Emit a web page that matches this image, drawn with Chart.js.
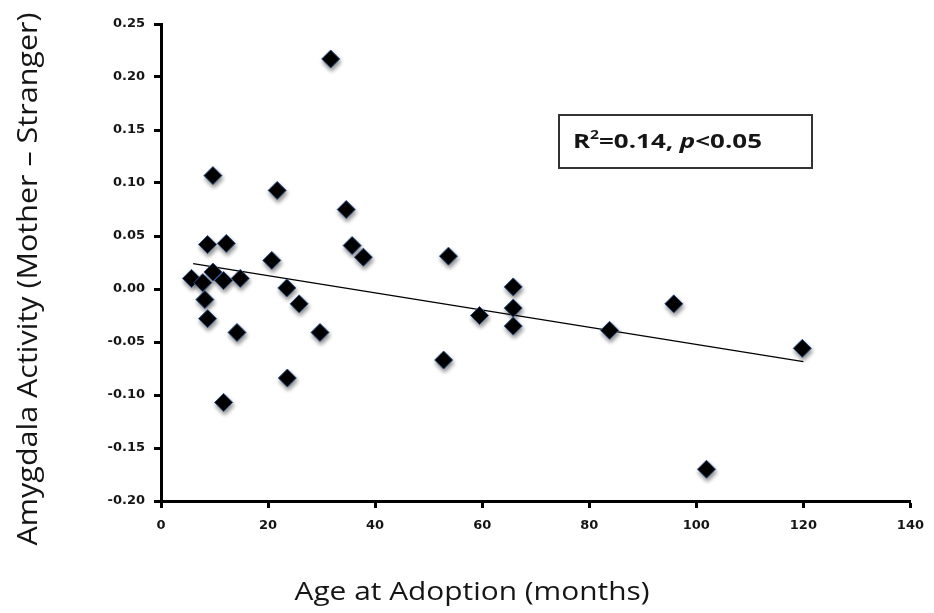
<!DOCTYPE html>
<html>
<head>
<meta charset="utf-8">
<script src="https://cdn.jsdelivr.net/npm/chart.js@4"></script>
<style>
  body { margin: 0; background: #fff; }
  #wrap { width: 934px; height: 613px; }
</style>
</head>
<body>
<div id="wrap"><canvas id="chart" width="934" height="613"></canvas></div>
<script>
// values
const ageMonths = [31.7, 9.7, 21.7, 34.6, 8.7, 12.2, 35.7, 37.8, 53.7, 5.7, 7.8, 9.7, 11.7, 14.8, 20.7, 23.5,
  25.8, 8.2, 8.7, 14.2, 23.6, 11.7, 29.7, 52.8, 59.5, 65.8, 65.8, 65.8, 83.8, 95.8, 101.9, 119.8];
const amygdala = [0.217, 0.107, 0.093, 0.075, 0.042, 0.043, 0.041, 0.030, 0.031, 0.010, 0.006, 0.016, 0.008, 0.010, 0.027, 0.001,
  -0.014, -0.010, -0.028, -0.041, -0.084, -0.107, -0.041, -0.067, -0.025, 0.002, -0.018, -0.035, -0.039, -0.014, -0.170, -0.056];
// trend line end points
const trendX = [6, 120];
const trendY = [0.024, -0.0686];

const xTitle = 'Age at Adoption (months)';
const yTitle = 'Amygdala Activity (Mother \u2013 Stranger)';

const points = ageMonths.map((x, i) => ({ x, y: amygdala[i] }));
const trend = trendX.map((x, i) => ({ x, y: trendY[i] }));

// draw text squeezed/stretched to a given width (reference uses a wide Calibri)
function fitText(ctx, text, x, y, width, font, rot) {
  ctx.save();
  ctx.font = font;
  const w = ctx.measureText(text).width;
  ctx.translate(x, y);
  if (rot) ctx.rotate(rot);
  ctx.scale(width / w, 1);
  ctx.textAlign = 'center';
  ctx.textBaseline = 'alphabetic';
  ctx.fillStyle = '#151515';
  ctx.fillText(text, 0, 0);
  ctx.restore();
}

const markerShadow = {
  id: 'markerShadow',
  beforeDatasetDraw(chart, args) {
    if (args.index !== 0) return;
    const ctx = chart.ctx;
    ctx.save();
    ctx.shadowColor = 'rgba(0,0,0,0.45)';
    ctx.shadowBlur = 4;
    ctx.shadowOffsetX = 1;
    ctx.shadowOffsetY = 3;
  },
  afterDatasetDraw(chart, args) {
    if (args.index !== 0) return;
    chart.ctx.restore();
  },
};

const labels = {
  id: 'labels',
  afterDraw(chart) {
    const ctx = chart.ctx;
    fitText(ctx, xTitle, 472, 600, 355, '25px "Open Sans"');
    fitText(ctx, yTitle, 37, 279, 533, '27px "Open Sans"', -Math.PI / 2);

    // R² box
    ctx.save();
    ctx.strokeStyle = '#333';
    ctx.lineWidth = 2;
    ctx.strokeRect(559, 115, 253, 53);
    const parts = [
      { t: 'R', f: 'bold 20px "Open Sans"', dy: 0 },
      { t: '2', f: 'bold 12px "Open Sans"', dy: -9 },
      { t: '=0.14, ', f: 'bold 20px "Open Sans"', dy: 0 },
      { t: 'p', f: 'italic bold 20px "Open Sans"', dy: 0 },
      { t: '<0.05', f: 'bold 20px "Open Sans"', dy: 0 },
    ];
    let total = 0;
    parts.forEach(p => { ctx.font = p.f; p.w = ctx.measureText(p.t).width; total += p.w; });
    const sx = 189 / total;
    ctx.translate(573, 148);
    ctx.scale(sx, 1);
    ctx.fillStyle = '#151515';
    ctx.textBaseline = 'alphabetic';
    let cx = 0;
    parts.forEach(p => { ctx.font = p.f; ctx.fillText(p.t, cx, p.dy); cx += p.w; });
    ctx.restore();
  },
};

const tickFont = { family: '"DejaVu Sans"', size: 13, weight: 'bold' };

new Chart(document.getElementById('chart'), {
  type: 'scatter',
  data: {
    datasets: [
      {
        label: 'Subjects',
        data: points,
        pointStyle: 'rectRot',
        pointRadius: 9,
        pointHoverRadius: 9,
        backgroundColor: '#000',
        borderColor: '#2c4f86',
        borderWidth: 1,
      },
      {
        type: 'line',
        label: 'Fit',
        data: trend,
        borderColor: '#000',
        borderWidth: 1.3,
        pointRadius: 0,
        fill: false,
      },
    ],
  },
  options: {
    responsive: false,
    animation: false,
    layout: { padding: { left: 0, top: 24, right: 18, bottom: 0 } },
    plugins: {
      legend: { display: false },
      tooltip: { enabled: false },
    },
    scales: {
      x: {
        type: 'linear',
        min: 0,
        max: 140,
        afterFit(scale) { scale.height = 112; },
        border: { display: true, color: '#000', width: 3 },
        grid: { drawOnChartArea: false, drawTicks: true, tickLength: 7, tickColor: '#000', tickWidth: 3 },
        ticks: { stepSize: 20, color: '#151515', font: tickFont, padding: 10, maxRotation: 0 },
      },
      y: {
        type: 'linear',
        min: -0.2,
        max: 0.25,
        afterFit(scale) { scale.width = 161; },
        border: { display: true, color: '#000', width: 3 },
        grid: { drawOnChartArea: false, drawTicks: true, tickLength: 7, tickColor: '#000', tickWidth: 3 },
        ticks: { stepSize: 0.05, color: '#151515', font: tickFont, padding: 9, callback: v => v.toFixed(2) },
      },
    },
  },
  plugins: [markerShadow, labels],
});
</script>
</body>
</html>
